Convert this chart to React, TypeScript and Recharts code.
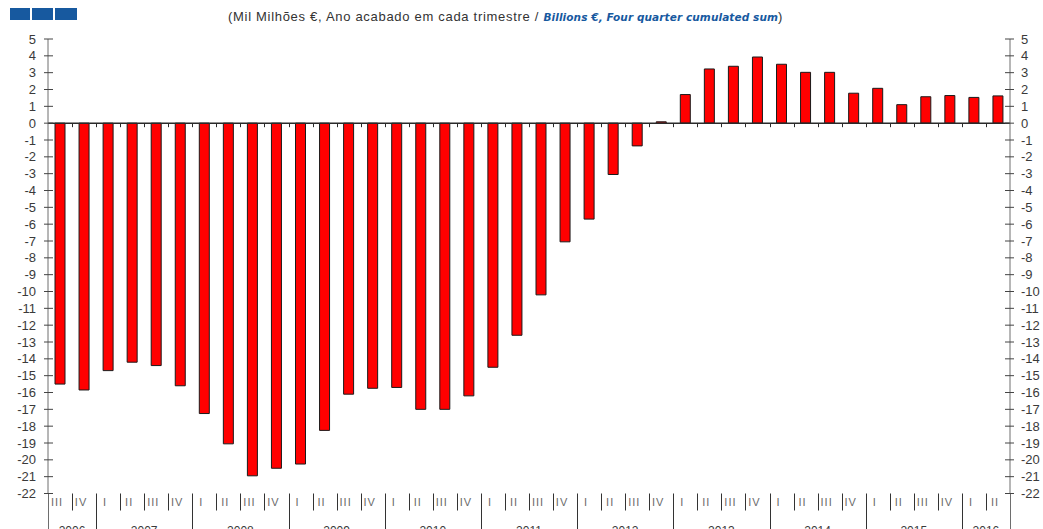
import { BarChart, Bar, XAxis, YAxis, ReferenceLine } from 'recharts';

// quarter periods, "year quarter"
const categories = [
  '2006 III', '2006 IV',
  '2007 I', '2007 II', '2007 III', '2007 IV',
  '2008 I', '2008 II', '2008 III', '2008 IV',
  '2009 I', '2009 II', '2009 III', '2009 IV',
  '2010 I', '2010 II', '2010 III', '2010 IV',
  '2011 I', '2011 II', '2011 III', '2011 IV',
  '2012 I', '2012 II', '2012 III', '2012 IV',
  '2013 I', '2013 II', '2013 III', '2013 IV',
  '2014 I', '2014 II', '2014 III', '2014 IV',
  '2015 I', '2015 II', '2015 III', '2015 IV',
  '2016 I', '2016 II',
];

// four quarter cumulated sum, billions of euro
const balance = [
  -15.5, -15.85,
  -14.7, -14.2, -14.4, -15.6,
  -17.25, -19.05, -20.95, -20.5,
  -20.25, -18.25, -16.1, -15.75,
  -15.7, -17.0, -17.0, -16.2,
  -14.5, -12.6, -10.2, -7.05,
  -5.7, -3.05, -1.35, 0.08,
  1.7, 3.22, 3.38, 3.93,
  3.5, 3.02, 3.02, 1.78,
  2.07, 1.1, 1.57, 1.64,
  1.53, 1.62,
];

const yTicks = [
  5, 4, 3, 2, 1, 0, -1, -2, -3, -4, -5, -6, -7, -8, -9, -10, -11, -12, -13, -14,
  -15, -16, -17, -18, -19, -20, -21, -22,
];

const titlePt = '(Mil Milhões €, Ano acabado em cada trimestre / ';
const titleEn = 'Billions €, Four quarter cumulated sum';

const chartData = categories.map((period, i) => ({ period, value: balance[i] }));

const FONT = '"Liberation Sans", Arial, sans-serif';
const AXIS = '#6e6e6e';
const LABEL = '#3a3a3a';
const BLUE = '#17599f';

const yearOf = (i: number) => categories[i].split(' ')[0];

function LeftTick({ x, y, payload }: any) {
  return (
    <g>
      <line x1={x - 4} x2={x + 5} y1={y} y2={y} stroke="#444" />
      <text x={x - 12} y={y} dy={4.5} textAnchor="end" fontSize={13} fill={LABEL} fontFamily={FONT}>
        {payload.value}
      </text>
    </g>
  );
}

function RightTick({ x, y, payload }: any) {
  return (
    <g>
      <line x1={x - 5} x2={x + 4} y1={y} y2={y} stroke="#444" />
      <text x={x + 11} y={y} dy={4.5} textAnchor="start" fontSize={13} fill={LABEL} fontFamily={FONT}>
        {payload.value}
      </text>
    </g>
  );
}

// quarter label plus separator; year label and long line on the first quarter of a year
function PeriodTick(props: any) {
  const { x, y, width, index } = props;
  const n = categories.length;
  const band = width / n;
  const left = Math.round(x - band / 2);
  const right = Math.round(x + band / 2);
  const year = yearOf(index);
  const quarter = categories[index].split(' ')[1];
  const startsYear = index === 0 || yearOf(index - 1) !== year;
  const isLast = index === n - 1;
  const groupSize = categories.filter((c) => c.startsWith(year)).length;

  return (
    <g>
      <rect
        x={left}
        y={y}
        width={1}
        height={startsYear ? 40 : 17}
        fill={index === 0 ? AXIS : '#333'}
      />
      {isLast && <rect x={right} y={y} width={1} height={40} fill={AXIS} />}
      <text x={x - 3} y={y + 12.5} textAnchor="middle" fontSize={11} fill="#6a6a6a" fontFamily={FONT} letterSpacing={1}>
        {quarter}
      </text>
      {startsYear && (
        <text
          x={x - band / 2 + (groupSize * band) / 2}
          y={y + 41.5}
          textAnchor="middle"
          fontSize={12}
          fill={LABEL}
          fontFamily={FONT}
        >
          {year}
        </text>
      )}
    </g>
  );
}

function ZeroLine(props: any) {
  const { x1, x2, y1 } = props;
  const band = (x2 - x1) / categories.length;
  return (
    <g>
      <line x1={x1} x2={x2} y1={y1} y2={y1} stroke="#2a2a2a" strokeWidth={1.5} />
      {categories.slice(1).map((c, k) => (
        <rect key={c} x={Math.round(x1 + band * (k + 1))} y={y1} width={1} height={4} fill="#2a2a2a" />
      ))}
    </g>
  );
}

export default function App() {
  return (
    <div style={{ position: 'absolute', left: 0, top: 0, width: 1043, height: 529, background: '#fff' }}>
      <div style={{ position: 'absolute', left: 10, top: 8, display: 'flex', gap: 2 }}>
        <div style={{ width: 20, height: 12, background: BLUE }} />
        <div style={{ width: 21, height: 12, background: BLUE }} />
        <div style={{ width: 22, height: 12, background: BLUE }} />
      </div>
      <div
        style={{
          position: 'absolute',
          left: 228,
          top: 9,
          fontFamily: FONT,
          fontSize: 13,
          letterSpacing: 0.7,
          color: '#333',
          whiteSpace: 'nowrap',
        }}
      >
        {titlePt}
        <span
          style={{
            color: BLUE,
            fontWeight: 'bold',
            fontStyle: 'italic',
            fontSize: 10.5,
            letterSpacing: 0.1,
            fontFamily: '"DejaVu Sans", Verdana, sans-serif',
          }}
        >
          {titleEn}
        </span>
        )
      </div>
      <BarChart
        width={1043}
        height={529}
        data={chartData}
        margin={{ top: 39, right: 0, left: 0, bottom: 0 }}
        barSize={10}
      >
        <XAxis
          dataKey="period"
          height={35.5}
          interval={0}
          axisLine={false}
          tickLine={false}
          tickSize={0}
          tickMargin={0}
          tick={<PeriodTick />}
        />
        <YAxis
          yAxisId="left"
          orientation="left"
          width={48}
          domain={[-22, 5]}
          ticks={yTicks}
          interval={0}
          allowDataOverflow
          tickLine={false}
          tickSize={0}
          tickMargin={0}
          axisLine={{ stroke: AXIS }}
          tick={<LeftTick />}
        />
        <YAxis
          yAxisId="right"
          orientation="right"
          width={33}
          domain={[-22, 5]}
          ticks={yTicks}
          interval={0}
          allowDataOverflow
          tickLine={false}
          tickSize={0}
          tickMargin={0}
          axisLine={{ stroke: AXIS }}
          tick={<RightTick />}
        />
        <Bar
          yAxisId="left"
          dataKey="value"
          fill="#ff0000"
          stroke="#1a1a1a"
          strokeWidth={1}
          isAnimationActive={false}
        />
        <ReferenceLine yAxisId="left" y={0} shape={<ZeroLine />} />
      </BarChart>
    </div>
  );
}
